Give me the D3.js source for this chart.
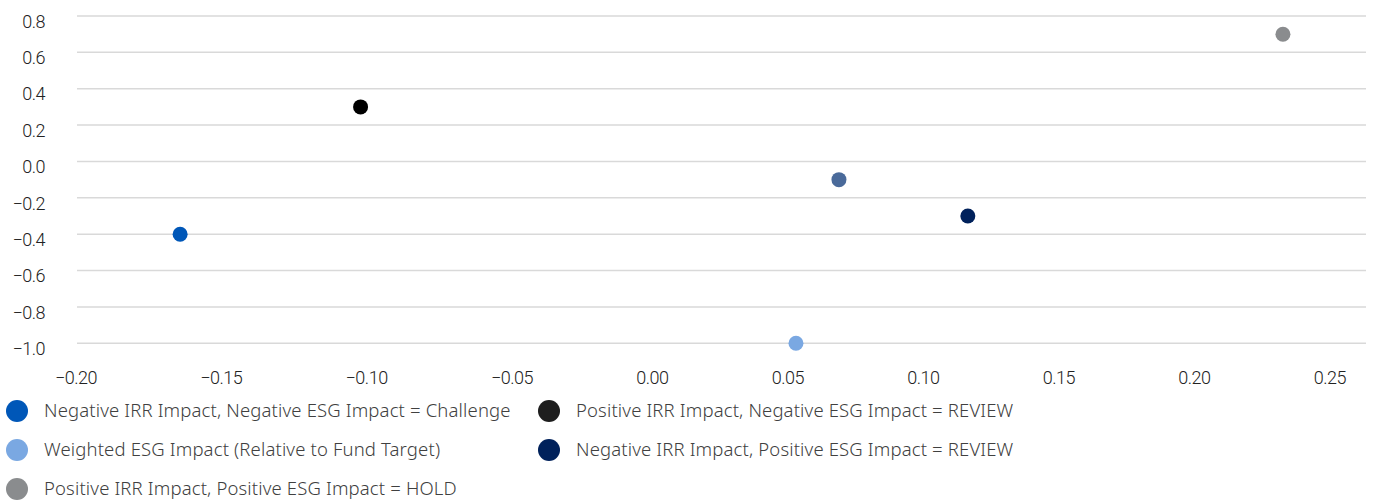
<!DOCTYPE html>
<html><head><meta charset="utf-8">
<script src="https://cdn.jsdelivr.net/npm/d3@7"></script>
<style>
body{margin:0;background:#fff;}
.tick text{font-family:Roboto,"Liberation Sans",Arial,sans-serif;font-weight:300;font-size:18px;letter-spacing:-0.5px;fill:#222;}
.legend text{font-family:"Noto Sans",Lato,sans-serif;font-weight:300;font-size:18.5px;letter-spacing:0.15px;fill:#404040;}
</style>
</head><body>
<svg id="chart" width="1383" height="500"></svg>
<script>
// ---- data ----
const xTicks = [-0.20, -0.15, -0.10, -0.05, 0.00, 0.05, 0.10, 0.15, 0.20, 0.25];
const yTicks = [0.8, 0.6, 0.4, 0.2, 0.0, -0.2, -0.4, -0.6, -0.8, -1.0];
const seriesNames = [
  "Negative IRR Impact, Negative ESG Impact = Challenge",
  "Positive IRR Impact, Negative ESG Impact = REVIEW",
  "Weighted ESG Impact (Relative to Fund Target)",
  "Negative IRR Impact, Positive ESG Impact = REVIEW",
  "Positive IRR Impact, Positive ESG Impact = HOLD"
];
const seriesColors = ["#0057b8", "#000000", "#7aa8e2", "#00215b", "#8a8c8e"];
const legendColors = ["#0057b8", "#1e1e1e", "#7aa8e2", "#00215b", "#8a8c8e"];
const seriesX = [-0.164, -0.101, 0.051, 0.111, 0.221];
const seriesY = [-0.4, 0.3, -1.0, -0.3, 0.7];
// extra point shown in the plot without a visible legend entry
const extraX = [0.066];
const extraY = [-0.1];
const extraColor = "#4a6a9a";

// ---- layout ----
const svg = d3.select("#chart");
const plotLeft = 77, plotRight = 1366, plotTop = 16, plotBottom = 343.3;
const x = d3.scaleLinear().domain([-0.20, 0.25]).range([plotLeft, plotRight]);
const y = d3.scaleLinear().domain([-1.0, 0.8]).range([plotBottom, plotTop]);

// gridlines
svg.append("g").selectAll("line").data(yTicks).join("line")
  .attr("x1", plotLeft).attr("x2", plotRight)
  .attr("y1", d => y(d)).attr("y2", d => y(d))
  .attr("stroke", "#d9d9d9").attr("stroke-width", 1.5);

// y axis
const yAxis = svg.append("g").attr("transform", "translate(45,0)")
  .call(d3.axisLeft(y).tickValues(yTicks).tickSize(0).tickPadding(0).tickFormat(d3.format(".1f")));
yAxis.select(".domain").remove();
yAxis.selectAll(".tick text").attr("dy", "0.62em").attr("x", 0);

// x axis
const xAxis = svg.append("g").attr("transform", `translate(0,${plotBottom})`)
  .call(d3.axisBottom(x).tickValues(xTicks).tickSize(0).tickFormat(d3.format(".2f")));
xAxis.select(".domain").remove();
xAxis.selectAll(".tick text").attr("y", 41).attr("dy", 0);
// labels distributed with equal gaps between them (space-between row)
const rowLeft = plotLeft - 22, rowRight = plotRight - 20;
const texts = xAxis.selectAll(".tick text").nodes();
const widths = texts.map(t => t.getComputedTextLength());
const gap = (rowRight - rowLeft - d3.sum(widths)) / (widths.length - 1);
let cursor = rowLeft;
xAxis.selectAll(".tick").each(function(d, i) {
  d3.select(this).attr("transform", `translate(${cursor + widths[i] / 2},0)`);
  cursor += widths[i] + gap;
});

// points
const pts = seriesX.map((v, i) => ({x: v, y: seriesY[i], c: seriesColors[i]}))
  .concat(extraX.map((v, i) => ({x: v, y: extraY[i], c: extraColor})));
svg.append("g").selectAll("circle").data(pts).join("circle")
  .attr("cx", d => x(d.x)).attr("cy", d => y(d.y)).attr("r", 7.5)
  .attr("fill", d => d.c);

// legend
const colX = [17, 549], rowY = [411, 450, 489];
const lg = svg.append("g").attr("class", "legend");
const items = lg.selectAll("g").data(seriesNames).join("g")
  .attr("transform", (d, i) => `translate(${colX[i % 2]},${rowY[Math.floor(i / 2)]})`);
items.append("circle").attr("r", 11).attr("fill", (d, i) => legendColors[i]);
items.append("text").attr("x", 27).attr("dy", "0.35em").text(d => d);
</script>
</body></html>
